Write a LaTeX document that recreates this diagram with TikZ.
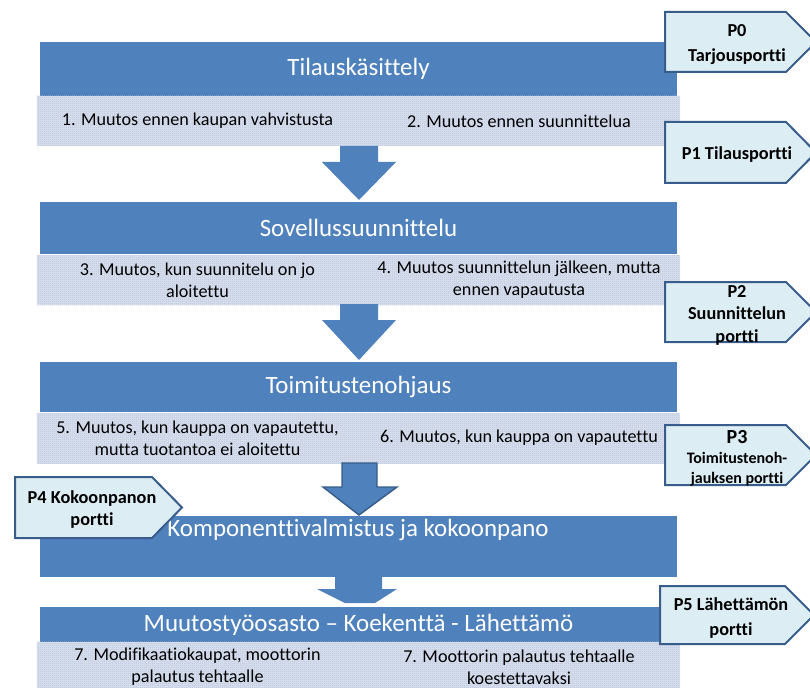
\documentclass[tikz,border=0pt]{standalone}
\usepackage{fontspec}
\setmainfont{Carlito}[Ligatures={NoCommon,NoDiscretionary}, RawFeature={-liga;-clig}]
\usetikzlibrary{patterns.meta}

\definecolor{barblue}{RGB}{79,129,189}
\definecolor{edgeblue}{RGB}{56,93,138}
\definecolor{gatefill}{RGB}{220,237,244}
\definecolor{cellbase}{RGB}{212,220,236}
\definecolor{celldot}{RGB}{174,189,216}

% fine dotted texture for the change-type cells
\tikzdeclarepattern{
  name=finedots,
  type=uncolored,
  bottom left={(0pt,0pt)},
  top right={(1.5pt,1.5pt)},
  tile size={(1.5pt,1.5pt)},
  code={\fill (0pt,0pt) rectangle (0.75pt,0.75pt);}
}

\tikzset{
  bar/.style={fill=barblue, text=white, inner sep=0pt,
    minimum width=477.75pt, font=\fontsize{18.7}{22}\selectfont},
  bartitle/.style={text=white, inner sep=0pt, font=\fontsize{18.7}{22}\selectfont},
  cell/.style={fill=cellbase, postaction={pattern=finedots, pattern color=celldot},
    inner sep=0pt, align=center, minimum width=241.5pt,
    font=\fontsize{13.6}{16.5}\selectfont},
  flow/.style={fill=barblue},
  gate/.style={fill=gatefill, draw=edgeblue, line width=1.5pt, line join=miter},
  gatetext/.style={inner sep=0pt, align=center, font=\bfseries\fontsize{13.7}{18.75}\selectfont},
}

\begin{document}
\begin{tikzpicture}[x=0.75pt, y=-0.75pt]
\useasboundingbox (0,0) rectangle (810,688);
\clip (0,0) rectangle (810,688);

% process stages
\node[bar, minimum height=40.5pt] (b1) at (358.5,69) {Tilauskäsittely};
\node[bar, minimum height=39pt] (b2) at (358.5,228) {Sovellussuunnittelu};
\node[bar, minimum height=37.5pt] (b3) at (358.5,387) {Toimitustenohjaus};
\node[bar, minimum height=45.75pt] (b4) at (358.5,546.5) {};
\node[bartitle] (t4) at (358,530) {Komponenttivalmistus ja kokoonpano};
\node[bar, minimum height=26.25pt] (b5) at (358.5,624.5) {Muutostyöosasto – Koekenttä - Lähettämö};

% change types under each stage
\node[cell, minimum height=37.5pt] (c1a) at (197.5,121) {1. Muutos ennen kaupan vahvistusta};
\node[cell, minimum height=37.5pt] (c1b) at (519,121) {2. Muutos ennen suunnittelua};
\node[cell, minimum height=37.5pt] (c2a) at (197.5,280) {3. Muutos, kun suunnitelu on jo\\aloitettu};
\node[cell, minimum height=37.5pt] (c2b) at (519,280) {4. Muutos suunnittelun jälkeen, mutta\\ennen vapautusta};
\node[cell, minimum height=38.25pt] (c3a) at (197.5,438) {5. Muutos, kun kauppa on vapautettu,\\mutta tuotantoa ei aloitettu};
\node[cell, minimum height=38.25pt] (c3b) at (519,438) {6. Muutos, kun kauppa on vapautettu};
\node[cell, minimum height=38pt] (c5a) at (197.5,667) {7. Modifikaatiokaupat, moottorin\\palautus tehtaalle};
\node[cell, minimum height=38pt] (c5b) at (519,667) {7. Moottorin palautus tehtaalle\\koestettavaksi};

% block arrows between the stages
\fill[flow] (340,146) -- (340,162) -- (322,162) -- (359,200) -- (396,162) -- (378,162) -- (378,146) -- cycle;
\fill[flow] (340,304) -- (340,320) -- (322,320) -- (359,360) -- (396,320) -- (378,320) -- (378,304) -- cycle;
\filldraw[flow, draw=edgeblue, line width=1.1pt, line join=miter]
  (342,463) -- (342,487) -- (323,487) -- (359,515) -- (397,487) -- (377,487) -- (377,463) -- cycle;
\fill[flow] (335,577) -- (335,589) -- (317,589) -- (345,603) -- (375,603) -- (397,589) -- (382,589) -- (382,577) -- cycle;

% gates
\draw[gate] (665,12) -- (786,12) -- (816,42) -- (786,72) -- (665,72) -- cycle;
\draw[gate] (665,122) -- (786,122) -- (816,152.5) -- (786,183) -- (665,183) -- cycle;
\draw[gate] (665,282) -- (786,282) -- (816,312) -- (786,342) -- (665,342) -- cycle;
\draw[gate] (665,425) -- (786,425) -- (816,455) -- (786,485) -- (665,485) -- cycle;
\draw[gate] (15,477) -- (152,477) -- (182,507.5) -- (152,538) -- (15,538) -- cycle;
\draw[gate] (660,586) -- (785,586) -- (814,615) -- (785,644) -- (660,644) -- cycle;

\node[gatetext] (g0) at (737,44.5) {P0\\Tarjousportti};
\node[gatetext] (g1) at (737,155) {P1 Tilausportti};
\node[gatetext, font=\bfseries\fontsize{13.7}{16.9}\selectfont] (g2) at (737,315) {P2\\Suunnittelun\\portti};
\node[gatetext, font=\bfseries\fontsize{12}{15}\selectfont] (g3) at (737,458)
  {{\fontsize{15}{15}\selectfont P3}\\Toimitustenoh-\\jauksen portti};
\node[gatetext, font=\bfseries\fontsize{13.7}{16.5}\selectfont] (g4) at (92,510) {P4 Kokoonpanon\\portti};
\node[gatetext] (g5) at (731,618) {P5 Lähettämön\\portti};
\end{tikzpicture}
\end{document}
